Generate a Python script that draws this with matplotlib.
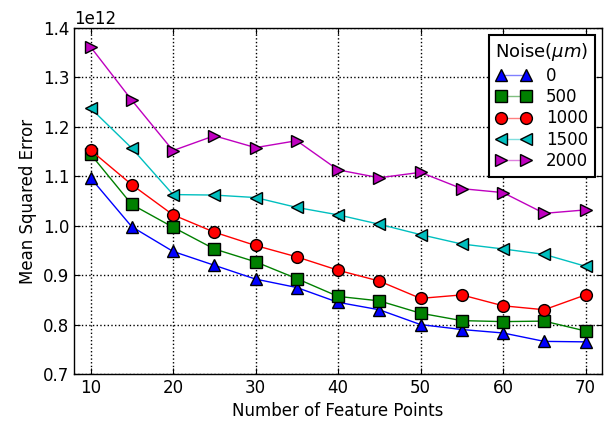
import matplotlib
matplotlib.use("Agg")
import matplotlib.pyplot as plt
from matplotlib.colors import to_rgba

x = [10, 15, 20, 25, 30, 35, 40, 45, 50, 55, 60, 65, 70]
noise_labels = ["0", "500", "1000", "1500", "2000"]
mse_0 = [1.097, 0.998, 0.948, 0.920, 0.892, 0.875, 0.845, 0.830, 0.800, 0.790, 0.783, 0.766, 0.765]
mse_500 = [1.145, 1.043, 0.997, 0.953, 0.927, 0.893, 0.857, 0.848, 0.823, 0.808, 0.806, 0.807, 0.787]
mse_1000 = [1.153, 1.083, 1.022, 0.987, 0.960, 0.937, 0.910, 0.888, 0.853, 0.860, 0.838, 0.830, 0.860]
mse_1500 = [1.238, 1.157, 1.063, 1.062, 1.057, 1.037, 1.022, 1.003, 0.982, 0.963, 0.953, 0.942, 0.918]
mse_2000 = [1.362, 1.254, 1.152, 1.182, 1.158, 1.172, 1.113, 1.097, 1.108, 1.075, 1.067, 1.025, 1.032]
series = [mse_0, mse_500, mse_1000, mse_1500, mse_2000]
colors = ["b", "g", "r", "c", "m"]
markers = ["^", "s", "o", "<", ">"]

plt.rcParams['font.family'] = ['DejaVu Sans']
fig = plt.figure(figsize=(6.04, 4.21), dpi=100)
ax = fig.add_axes([74/604, 1-374/421, (602-74)/604, (374-28)/421])

for vals, c, m, lab in zip(series, colors, markers, noise_labels):
    ax.plot(x, [v * 1e12 for v in vals], color=c, marker=m, markersize=8.5,
            markerfacecolor=c, markeredgecolor='k', markeredgewidth=1.0,
            linewidth=1.0, label=lab)

ax.set_xlim(8, 72)
ax.set_ylim(0.7e12, 1.4e12)
ax.set_xticks(x[::2])
ax.grid(True, color='k', linestyle=':', linewidth=1.0)
ax.tick_params(direction='in', top=True, right=True, labelsize=12, length=4)
for s in ax.spines.values():
    s.set_linewidth(1.0)
ax.set_xlabel("Number of Feature Points", fontsize=12)
ax.set_ylabel("Mean Squared Error", fontsize=12)
ax.yaxis.get_offset_text().set_fontsize(12)

leg = ax.legend(title=r"Noise($\mu m$)", loc='upper right', numpoints=2,
                fontsize=12, title_fontsize=13, fancybox=False, framealpha=1,
                edgecolor='k', handlelength=2.1, borderaxespad=0.4,
                labelspacing=0.2, borderpad=0.4, handletextpad=0.9)
leg.get_frame().set_linewidth(1.5)
for ln, c in zip(leg.get_lines(), colors):
    r, g, b, _ = to_rgba(c)
    light = (r + (1 - r) * 0.5, g + (1 - g) * 0.5, b + (1 - b) * 0.5)
    ln.set_color(light)
    ln.set_markerfacecolor(c)
    ln.set_markeredgecolor('k')

fig.savefig("out.png", dpi=100)
